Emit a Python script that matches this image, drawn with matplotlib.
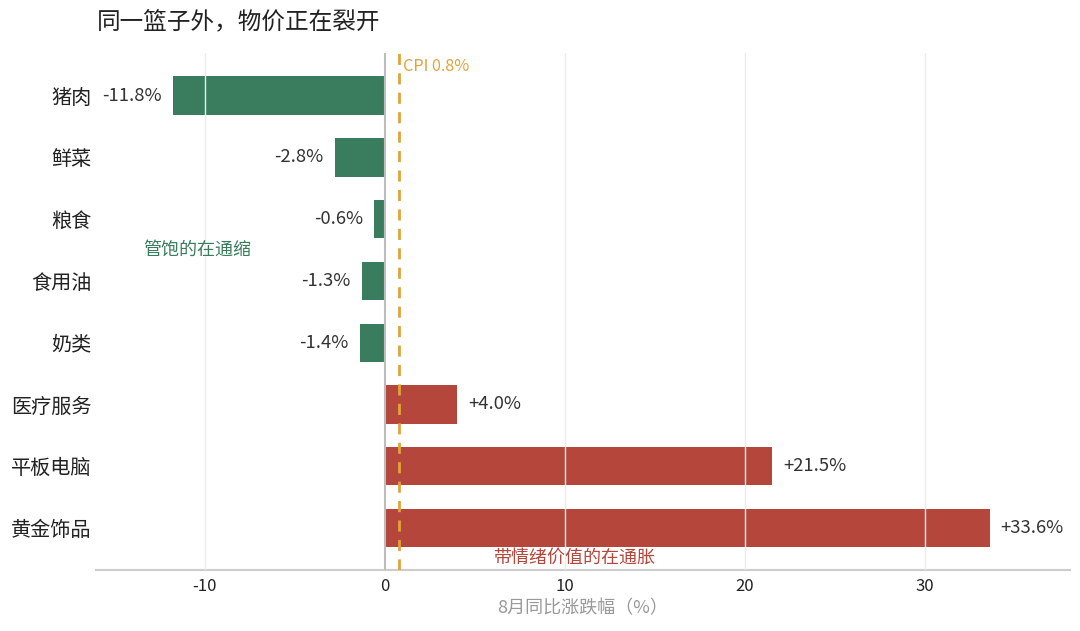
import matplotlib
matplotlib.use("Agg")
import matplotlib.pyplot as plt

plt.rcParams['font.family'] = ['Noto Sans CJK SC', 'DejaVu Sans']

categories = ['猪肉', '鲜菜', '粮食', '食用油', '奶类', '医疗服务', '平板电脑', '黄金饰品']
values = [-11.8, -2.8, -0.6, -1.3, -1.4, 4.0, 21.5, 33.6]
cpi = 0.8
title = '同一篮子外，物价正在裂开'
xlabel = '8月同比涨跌幅（%）'
xticks = [-10, 0, 10, 20, 30]
note_neg = '管饱的在通缩'
note_pos = '带情绪价值的在通胀'

GREEN = '#3a7d5e'
RED = '#b5463c'
ORANGE = '#e0a43a'

fig = plt.figure(figsize=(10.8, 6.31), dpi=100)
ax = fig.add_axes([0.0889, 0.0967, 0.9018, 0.8193])

ypos = list(range(len(categories)))
colors = [GREEN if v < 0 else RED for v in values]
ax.barh(ypos, values, height=0.62, color=colors, zorder=2)

ax.set_xlim(-16.05, 38.05)
ax.set_ylim(7.68, -0.69)
ax.set_yticks(ypos)
ax.set_yticklabels(categories, fontsize=14.5, color='#222222')
ax.set_xticks(xticks)
ax.set_xticklabels([str(t) for t in xticks], fontsize=12, color='#222222')
ax.tick_params(axis='x', length=0, pad=6)
ax.tick_params(axis='y', length=0, pad=3.5)

for x in xticks:
    if x != 0:
        ax.axvline(x, color='#ebebeb', lw=1, zorder=3)
ax.axvline(0, color='#bdbdbd', lw=1.5, zorder=3)
ax.axvline(cpi, color=ORANGE, lw=2, ls=(0, (4, 3)), zorder=4)
ax.text(cpi + 0.2, -0.47, f'CPI {cpi}%', color=ORANGE, fontsize=11.7, va='center', ha='left')

for s in ['top', 'right', 'left']:
    ax.spines[s].set_visible(False)
ax.spines['bottom'].set_color('#cccccc')
ax.spines['bottom'].set_linewidth(1.5)

for y, v in zip(ypos, values):
    if v < 0:
        ax.text(v - 0.6, y, f'{v:.1f}%', ha='right', va='center', fontsize=13.3, color='#333333')
    else:
        ax.text(v + 0.6, y, f'+{v:.1f}%', ha='left', va='center', fontsize=13.3, color='#333333')

ax.text(-13.4, 2.5, note_neg, color=GREEN, fontsize=13, ha='left', va='center')
ax.text(6.0, 7.48, note_pos, color=RED, fontsize=13, ha='left', va='center')

ax.set_xlabel(xlabel, fontsize=13, color='#999999', labelpad=3)

fig.text(0.09, 0.965, title, fontsize=17, color='#222222', ha='left', va='center')

fig.savefig('out.png', dpi=100)
